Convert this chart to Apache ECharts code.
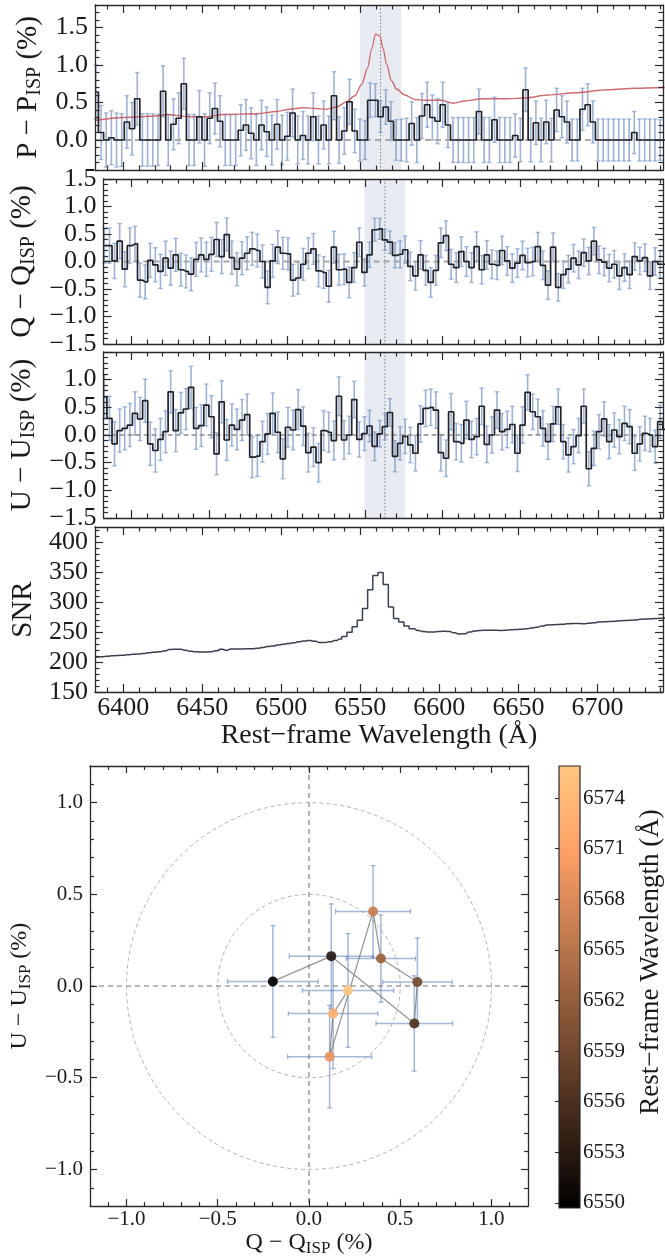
<!DOCTYPE html>
<html><head><meta charset="utf-8">
<script src="https://cdn.jsdelivr.net/npm/echarts@6/dist/echarts.min.js"></script>
<style>html,body{margin:0;padding:0;background:#fff}#c{width:665px;height:1258px}</style>
</head><body><div id="c"></div>
<script>
// ---------------- DATA ----------------
const wavelength = [
 6382.62,6385.90,6389.17,6392.45,6395.72,6399.00,6402.28,6405.55,6408.83,6412.10,
 6415.38,6418.66,6421.93,6425.21,6428.48,6431.76,6435.04,6438.31,6441.59,6444.86,
 6448.14,6451.42,6454.69,6457.97,6461.24,6464.52,6467.80,6471.07,6474.35,6477.62,
 6480.90,6484.18,6487.45,6490.73,6494.00,6497.28,6500.56,6503.83,6507.11,6510.38,
 6513.66,6516.94,6520.21,6523.49,6526.76,6530.04,6533.32,6536.59,6539.87,6543.14,
 6546.42,6549.70,6552.97,6556.25,6559.52,6562.80,6566.08,6569.35,6572.63,6575.90,
 6579.18,6582.46,6585.73,6589.01,6592.28,6595.56,6598.84,6602.11,6605.39,6608.66,
 6611.94,6615.22,6618.49,6621.77,6625.04,6628.32,6631.60,6634.87,6638.15,6641.42,
 6644.70,6647.98,6651.25,6654.53,6657.80,6661.08,6664.36,6667.63,6670.91,6674.18,
 6677.46,6680.74,6684.01,6687.29,6690.56,6693.84,6697.12,6700.39,6703.67,6706.94,
 6710.22,6713.50,6716.77,6720.05,6723.32,6726.60,6729.88,6733.15,6736.43,6739.70,
 6742.98];
const pPct = [
 0.64,0.10,0.00,0.03,0.00,0.00,0.24,0.15,0.55,0.00,
 0.00,0.00,0.00,0.65,0.00,0.21,0.29,0.75,0.00,0.00,
 0.31,0.00,0.29,0.42,0.25,0.00,0.00,0.00,0.13,0.20,
 0.09,0.00,0.20,0.11,0.00,0.21,0.00,0.05,0.36,0.00,
 0.06,0.00,0.31,0.00,0.20,0.00,0.59,0.00,0.12,0.51,
 0.12,0.00,0.00,0.53,0.53,0.31,0.44,0.25,0.00,0.00,
 0.00,0.22,0.00,0.32,0.47,0.30,0.25,0.47,0.20,0.00,
 0.00,0.00,0.00,0.00,0.38,0.00,0.00,0.27,0.00,0.00,
 0.00,0.06,0.00,0.67,0.00,0.23,0.00,0.24,0.00,0.40,
 0.31,0.24,0.00,0.00,0.41,0.47,0.24,0.00,0.00,0.00,
 0.00,0.00,0.00,0.00,0.10,0.00,0.00,0.00,0.00,0.00,
 0.00];
const qPct = [
 0.29,0.29,0.01,0.37,-0.14,0.29,0.32,-0.34,-0.37,0.02,
 -0.06,-0.18,0.06,-0.12,0.12,-0.15,-0.18,-0.23,0.04,0.12,
 0.04,0.13,0.40,0.09,0.49,0.07,-0.14,0.06,0.15,0.23,
 0.20,0.00,-0.47,0.01,0.26,0.15,0.14,-0.34,-0.30,-0.05,
 0.15,0.23,-0.17,-0.20,-0.45,0.26,-0.15,-0.14,-0.38,-0.11,
 0.35,-0.198,0.122,0.577,0.594,0.394,0.351,0.113,0.132,0.214,
 -0.09,-0.26,0.12,-0.16,-0.38,-0.16,0.34,0.47,-0.05,-0.11,
 0.18,0.00,-0.11,0.27,-0.15,0.12,-0.05,-0.07,0.20,0.01,
 -0.12,-0.03,0.11,-0.02,0.00,0.27,-0.07,-0.43,0.26,-0.47,
 -0.24,-0.14,0.06,-0.06,0.16,0.01,0.37,0.03,-0.01,-0.12,
 -0.05,-0.26,-0.11,-0.24,0.09,0.01,0.07,-0.26,0.00,-0.05,
 -0.05];
const uPct = [
 0.69,0.30,-0.16,0.08,0.12,0.18,0.39,0.29,0.62,-0.16,
 -0.28,-0.08,0.06,0.78,0.08,0.40,0.47,0.86,0.12,0.17,
 0.54,0.33,-0.34,0.60,-0.09,0.18,0.10,0.27,0.37,-0.40,
 -0.38,-0.12,0.02,0.39,0.05,-0.43,0.14,0.09,0.46,0.16,
 -0.32,-0.22,-0.50,0.08,0.05,-0.10,0.70,-0.09,0.00,0.64,
 -0.08,0.025,0.163,-0.204,0.022,0.150,0.407,-0.385,-0.150,-0.024,
 -0.18,-0.33,0.20,0.48,0.50,0.45,-0.32,-0.42,0.42,-0.12,
 -0.15,0.27,-0.08,-0.03,0.52,-0.17,0.00,0.45,0.06,0.10,
 0.19,-0.33,0.18,0.77,0.42,0.33,0.12,-0.12,0.20,0.51,
 -0.12,-0.36,-0.21,-0.01,0.52,-0.61,-0.24,0.06,0.29,-0.12,
 0.09,-0.03,0.21,0.15,-0.33,-0.16,0.03,0.00,-0.21,0.24,
 0.10];
const snr = [
 208.5,209,210,210.5,211,211.5,212.5,213,213.5,214.5,
 215.5,216.5,217.5,218.5,221,221.5,221.5,220,218,217.5,
 217,217,217.5,219,221.5,220,222,222,222,222.5,
 222.5,223,224.5,226,227,228.5,230,231,232.5,234,
 235.5,236,235,233,233,234,236,238.5,243,250,
 259,270,289.5,321,345,350,330,292,273,267,
 260.5,256,253,251,250.5,250.5,251,251.5,251,249,
 247,247.5,250.5,252,253,253.5,253.5,253.5,253,253.5,
 254,254.5,255,256,257,258.5,260.5,262,262.5,263,
 263.5,264,264.5,264.5,264,265,266,267,267.5,268,
 268.5,269,269.5,270,270.5,271.5,272,272.5,273,273.5,
 274];
const pErr = [
 .36,.36,.36,.36,.36,.35,.35,.35,.35,.35,
 .35,.35,.34,.34,.34,.34,.34,.34,.34,.34,
 .35,.35,.34,.34,.34,.34,.34,.34,.34,.34,
 .34,.34,.33,.33,.33,.33,.33,.32,.32,.32,
 .32,.32,.32,.32,.32,.32,.32,.31,.31,.30,
 .29,.28,.26,.23,.22,.21,.23,.26,.27,.28,
 .29,.29,.30,.30,.30,.30,.30,.30,.30,.30,
 .30,.30,.30,.30,.30,.30,.30,.30,.30,.30,
 .30,.29,.29,.29,.29,.29,.29,.29,.29,.29,
 .28,.28,.28,.28,.28,.28,.28,.28,.28,.28,
 .28,.28,.28,.28,.28,.28,.28,.28,.28,.27,
 .27];
const qErr = [
 .32,.32,.32,.32,.32,.32,.32,.31,.31,.31,
 .31,.31,.31,.31,.30,.30,.30,.30,.31,.31,
 .31,.31,.31,.31,.30,.30,.30,.30,.30,.30,
 .30,.30,.30,.30,.30,.29,.29,.29,.29,.29,
 .28,.28,.29,.29,.29,.29,.28,.28,.28,.27,
 .26,.248,.23,.21,.19,.19,.205,.23,.245,.25,
 .26,.26,.26,.27,.27,.27,.27,.27,.27,.27,
 .27,.27,.27,.27,.26,.26,.26,.26,.26,.26,
 .26,.26,.26,.26,.26,.26,.26,.26,.26,.25,
 .25,.25,.25,.25,.25,.25,.25,.25,.25,.25,
 .25,.25,.25,.25,.25,.25,.25,.25,.25,.24,
 .24];
const uErr = [
 .40,.40,.40,.39,.39,.39,.39,.39,.39,.39,
 .39,.38,.38,.38,.38,.37,.37,.38,.38,.38,
 .38,.38,.38,.38,.37,.38,.37,.37,.37,.37,
 .37,.37,.37,.37,.37,.36,.36,.36,.36,.35,
 .35,.35,.35,.36,.36,.35,.35,.35,.34,.33,
 .32,.305,.285,.26,.24,.238,.25,.28,.30,.31,
 .32,.32,.33,.33,.33,.33,.33,.33,.33,.33,
 .34,.34,.33,.33,.33,.33,.33,.33,.33,.33,
 .33,.33,.33,.32,.32,.32,.32,.32,.32,.32,
 .31,.31,.31,.31,.31,.31,.31,.31,.31,.31,
 .31,.31,.31,.31,.31,.31,.31,.30,.30,.30,
 .30];
// red reference curve in the top panel
const refWave = [6382.1,6400,6421.1,6427.4,6442.2,6452.7,6463.2,6484.4,6497,6505.4,6513.8,6522.3,6528.6,6535,6541.3,6546.5,6550.8,6554.6,6557.1,6559.6,6562.3,6564.4,6566.6,6569.7,6572.9,6578.1,6584.5,6590.8,6601.4,6608.7,6616.1,6626.7,6643.5,6654,6668.8,6685.6,6706.7,6723.6,6742.6];
const refPct  = [0.26,0.30,0.32,0.34,0.31,0.31,0.34,0.35,0.38,0.41,0.43,0.42,0.41,0.44,0.51,0.59,0.74,0.96,1.21,1.41,1.39,1.22,1.01,0.79,0.68,0.60,0.54,0.53,0.53,0.49,0.52,0.55,0.55,0.56,0.60,0.63,0.67,0.69,0.70];
const shadeRange = [6549.70, 6575.90];
const lineCentre = 6562.8;
const xRange = [6382.1, 6741.5];
const xMajorTicks = [6400,6450,6500,6550,6600,6650,6700];
const pMajorTicks = [0,0.5,1.0,1.5];
const qMajorTicks = [-1.5,-1.0,-0.5,0,0.5,1.0,1.5];
const uLabelTicks = [-1.5,-1.0,-0.5,0,0.5,1.0];
const snrMajorTicks = [150,200,250,300,350,400];
const quMajorTicks = [-1.0,-0.5,0,0.5,1.0];
const cbarTicks = [6550,6553,6556,6559,6562,6565,6568,6571,6574];

// ---------------- helpers ----------------
const FONT = "'Liberation Serif','DejaVu Serif',serif";
const INK = '#1a1a1a';
function fmt1(v){ const s = Math.abs(v).toFixed(1); return (v < -1e-9 ? '\u2212' : '') + s; }
function steps(a, b, st, skip){ const out=[]; for(let k=Math.round(a/st); k<=Math.round(b/st); k++){ const v=+(k*st).toFixed(6); if(!skip || Math.abs(v/skip - Math.round(v/skip))>1e-6) out.push(v);} return out; }
function rich(main, sub, tail, fs, sfs, lh){
  return { text: '{n|'+main+'}{s|'+sub+'}{n|'+tail+'}',
    style: {fontFamily:FONT, fontSize:fs, color:INK,
      rich:{ n:{fontFamily:FONT, fontSize:fs, color:INK, lineHeight:lh},
             s:{fontFamily:FONT, fontSize:sfs, color:INK, lineHeight:Math.round(sfs*0.8), verticalAlign:'bottom'} } } };
}

const xAxis = [], yAxis = [];
function axisSet(list, isX, grid, o){
  const first = list.length;
  const ls = {color:'#2a2a2a', width:1.3};
  const ts = {color:'#2a2a2a', width:1.2};
  const sides = isX ? ['bottom','top'] : ['left','right'];
  sides.forEach((pos, si) => {
    const base = {gridIndex:grid, type:'value', min:o.min, max:o.max, position:pos, z:10, silent:true,
      splitLine:{show:false}, minorTick:{show:false}};
    const lab = (si===0 && o.labels) ? {show:true, customValues:o.labels, formatter:o.fmt||fmt1,
        fontFamily:FONT, fontSize:o.fs, color:INK, margin:o.margin} : {show:false};
    const major = Object.assign({}, base, {
      axisLine:{show:true, onZero:false, lineStyle:ls},
      axisTick:{show:true, inside:true, length:o.majLen||8, customValues:o.major, lineStyle:ts},
      axisLabel:lab});
    if (si===0 && o.name){
      major.name = o.name.text; major.nameLocation='middle'; major.nameGap=o.nameGap;
      major.nameTextStyle = o.name.style;
    }
    list.push(major);
    list.push(Object.assign({}, base, {
      axisLine:{show:false, onZero:false},
      axisTick:{show:true, inside:true, length:o.minLen||4.5, customValues:o.minor, lineStyle:ts},
      axisLabel:{show:false}}));
  });
  return first;
}

const grid = [
  {left:95, right:2, top:5,   height:165},
  {left:95, right:2, top:179, height:165},
  {left:95, right:2, top:352, height:166},
  {left:95, right:2, top:527, height:165},
  {left:85, width:443, top:766, height:442},
  {left:559, width:23, top:766, height:442}
];

const xMinor = steps(6390, 6740, 10, 50);
const series = [];

// ---- top three polarisation panels ----
const panelDefs = [
  {vals:pPct, errs:pErr, min:-0.4, max:1.8, major:pMajorTicks, labels:pMajorTicks,
   minor:steps(-0.3,1.7,0.1,0.5), name:rich('P \u2212 P','ISP',' (%)',29,20,32),
   zero:{stroke:'#aaaaaa', lineWidth:2, lineDash:[6,4]}},
  {vals:qPct, errs:qErr, min:-1.5, max:1.5, major:qMajorTicks, labels:qMajorTicks,
   minor:steps(-1.4,1.4,0.1,0.5), name:rich('Q \u2212 Q','ISP',' (%)',29,20,32),
   zero:{stroke:'#a6a6a6', lineWidth:2, lineDash:[6,4]}},
  {vals:uPct, errs:uErr, min:-1.5, max:1.5, major:qMajorTicks, labels:uLabelTicks,
   minor:steps(-1.4,1.4,0.1,0.5), name:rich('U \u2212 U','ISP',' (%)',29,20,32),
   zero:{stroke:'#8c8c8c', lineWidth:1.4, lineDash:[5,3]}}
];

panelDefs.forEach((pd, g) => {
  const xi = axisSet(xAxis, true, g, {min:xRange[0], max:xRange[1], major:xMajorTicks, minor:xMinor, labels:null});
  const yi = axisSet(yAxis, false, g, {min:pd.min, max:pd.max, major:pd.major, minor:pd.minor,
    labels:pd.labels, fs:26, margin:7, name:pd.name, nameGap:45});
  // shaded line region
  series.push({type:'custom', xAxisIndex:xi, yAxisIndex:yi, z:1, silent:true, data:[[shadeRange[0], shadeRange[1]]],
    renderItem(params, api){
      const cs = params.coordSys;
      const a = api.coord([api.value(0), 0])[0], b = api.coord([api.value(1), 0])[0];
      return {type:'rect', shape:{x:a, y:cs.y, width:b-a, height:cs.height}, style:{fill:'#e8ecf2'}};
    }});
  // error bars
  series.push({type:'custom', xAxisIndex:xi, yAxisIndex:yi, z:2, silent:true,
    data: wavelength.map((w,j)=>[w, pd.vals[j], pd.errs[j]]),
    renderItem(params, api){
      const cs = params.coordSys;
      const x = api.value(0), y = api.value(1), e = api.value(2);
      const p1 = api.coord([x, y+e]), p2 = api.coord([x, y-e]);
      if (p1[0] < cs.x || p1[0] > cs.x + cs.width) return null;
      const top = Math.max(cs.y, p1[1]), bot = Math.min(cs.y+cs.height, p2[1]);
      const ch = [{type:'line', shape:{x1:p1[0], y1:top, x2:p1[0], y2:bot}, style:{stroke:'rgba(76,114,176,0.55)', lineWidth:1.6}}];
      [p1[1], p2[1]].forEach(yy => { if (yy >= cs.y && yy <= cs.y+cs.height)
        ch.push({type:'line', shape:{x1:p1[0]-2.3, y1:yy, x2:p1[0]+2.3, y2:yy}, style:{stroke:'rgba(110,145,200,0.6)', lineWidth:1.4}}); });
      return {type:'group', children:ch};
    }});
  // zero line + H-alpha line
  series.push({type:'custom', xAxisIndex:xi, yAxisIndex:yi, z:3, silent:true, data:[[lineCentre, 0]],
    renderItem(params, api){
      const cs = params.coordSys;
      const p = api.coord([api.value(0), api.value(1)]);
      return {type:'group', children:[
        {type:'line', shape:{x1:cs.x, y1:p[1], x2:cs.x+cs.width, y2:p[1]}, style:Object.assign({fill:null}, pd.zero)},
        {type:'line', shape:{x1:p[0], y1:cs.y, x2:p[0], y2:cs.y+cs.height}, style:{stroke:'rgba(110,110,110,0.85)', lineWidth:1, lineDash:[1.5,2]}}
      ]};
    }});
  if (g === 0){
    series.push({type:'line', xAxisIndex:xi, yAxisIndex:yi, z:4, silent:true, showSymbol:false, symbol:'none',
      smooth:0.3, smoothMonotone:'x', data: refWave.map((w,k)=>[w, refPct[k]]),
      lineStyle:{color:'rgba(200,80,88,0.85)', width:1.3}});
  }
  series.push({type:'line', xAxisIndex:xi, yAxisIndex:yi, z:5, silent:true, step:'middle', showSymbol:false, symbol:'none',
    data: wavelength.map((w,j)=>[w, pd.vals[j]]), lineStyle:{color:'#222228', width:1.7}});
});

// ---- SNR panel ----
{
  const xi = axisSet(xAxis, true, 3, {min:xRange[0], max:xRange[1], major:xMajorTicks, minor:xMinor,
    labels:xMajorTicks, fs:26, margin:3, fmt:v=>String(v),
    name:{text:'Rest\u2212frame Wavelength (\u00C5)', style:{fontFamily:FONT, fontSize:28, color:INK}}, nameGap:30});
  const yi = axisSet(yAxis, false, 3, {min:150, max:426, major:snrMajorTicks, minor:steps(160,420,10,50),
    labels:snrMajorTicks, fs:26, margin:7, fmt:v=>String(v),
    name:{text:'SNR', style:{fontFamily:FONT, fontSize:29, color:INK}}, nameGap:47});
  series.push({type:'line', xAxisIndex:xi, yAxisIndex:yi, z:5, silent:true, step:'middle', showSymbol:false, symbol:'none',
    data: wavelength.map((w,j)=>[w, snr[j]]), lineStyle:{color:'#3a4150', width:1.5}});
}

// ---- Q-U plane ----
const quIdx = wavelength.map((w,j)=>j).filter(j => wavelength[j] >= shadeRange[0]-0.01 && wavelength[j] <= shadeRange[1]+0.01);
const wMin = wavelength[quIdx[0]], wMax = wavelength[quIdx[quIdx.length-1]];
function copper(t){
  const r = Math.min(1, t/0.809524), g = 0.7812*t, b = 0.4975*t;
  return 'rgb(' + Math.round(r*255) + ',' + Math.round(g*255) + ',' + Math.round(b*255) + ')';
}
{
  const qx = axisSet(xAxis, true, 4, {min:-1.2, max:1.2, major:quMajorTicks, minor:steps(-1.1,1.1,0.1,0.5),
    labels:quMajorTicks, fs:21, margin:3, majLen:7, minLen:4,
    name:rich('Q \u2212 Q','ISP',' (%)',24,17,28), nameGap:20});
  const qy = axisSet(yAxis, false, 4, {min:-1.2, max:1.2, major:quMajorTicks, minor:steps(-1.1,1.1,0.1,0.5),
    labels:quMajorTicks, fs:21, margin:7, majLen:7, minLen:4,
    name:rich('U \u2212 U','ISP',' (%)',24,17,28), nameGap:49});
  // reference circles and axes
  series.push({type:'custom', xAxisIndex:qx, yAxisIndex:qy, z:1, silent:true, data:[[0,0]],
    renderItem(params, api){
      const cs = params.coordSys; const ch = [];
      [0.5, 1.0].forEach(r => {
        const pts = [];
        for (let k=0; k<=180; k++){ const a = k/180*2*Math.PI; pts.push(api.coord([r*Math.cos(a), r*Math.sin(a)])); }
        ch.push({type:'polyline', shape:{points:pts}, style:{stroke:'#b4b4b4', lineWidth:1, lineDash:[4,3], fill:null}});
      });
      const o = api.coord([0,0]);
      ch.push({type:'line', shape:{x1:cs.x, y1:o[1], x2:cs.x+cs.width, y2:o[1]}, style:{stroke:'#a0a0a0', lineWidth:1.6, lineDash:[5,4]}});
      ch.push({type:'line', shape:{x1:o[0], y1:cs.y, x2:o[0], y2:cs.y+cs.height}, style:{stroke:'#a0a0a0', lineWidth:1.6, lineDash:[5,4]}});
      return {type:'group', children:ch};
    }});
  // error bars
  series.push({type:'custom', xAxisIndex:qx, yAxisIndex:qy, z:2, silent:true,
    data: quIdx.map(j => [qPct[j], uPct[j], qErr[j], uErr[j]]),
    renderItem(params, api){
      const q = api.value(0), u = api.value(1), eq = api.value(2), eu = api.value(3);
      const L = api.coord([q-eq, u]), R = api.coord([q+eq, u]), T = api.coord([q, u+eu]), B = api.coord([q, u-eu]);
      const st = {stroke:'rgba(76,114,176,0.5)', lineWidth:1.5};
      const cs = {stroke:'rgba(76,114,176,0.5)', lineWidth:1.3};
      return {type:'group', children:[
        {type:'line', shape:{x1:L[0], y1:L[1], x2:R[0], y2:R[1]}, style:st},
        {type:'line', shape:{x1:T[0], y1:T[1], x2:B[0], y2:B[1]}, style:st},
        {type:'line', shape:{x1:L[0], y1:L[1]-2.5, x2:L[0], y2:L[1]+2.5}, style:cs},
        {type:'line', shape:{x1:R[0], y1:R[1]-2.5, x2:R[0], y2:R[1]+2.5}, style:cs},
        {type:'line', shape:{x1:T[0]-2.5, y1:T[1], x2:T[0]+2.5, y2:T[1]}, style:cs},
        {type:'line', shape:{x1:B[0]-2.5, y1:B[1], x2:B[0]+2.5, y2:B[1]}, style:cs}
      ]};
    }});
  series.push({type:'line', xAxisIndex:qx, yAxisIndex:qy, z:3, silent:true, showSymbol:false, symbol:'none',
    data: quIdx.map(j => [qPct[j], uPct[j]]), lineStyle:{color:'rgba(115,115,115,0.75)', width:1.3}});
  series.push({type:'scatter', xAxisIndex:qx, yAxisIndex:qy, z:4, silent:true, symbolSize:10,
    data: quIdx.map(j => ({value:[qPct[j], uPct[j]], itemStyle:{color:copper((wavelength[j]-wMin)/(wMax-wMin)), opacity:0.92}}))});
}

// ---- colour bar ----
{
  xAxis.push({gridIndex:5, type:'value', min:0, max:1, show:false});
  const cx = xAxis.length-1;
  yAxis.push({gridIndex:5, type:'value', min:wMin, max:wMax, position:'right', z:10, silent:true,
    splitLine:{show:false}, axisLine:{show:false},
    axisTick:{show:true, inside:true, length:4, customValues:cbarTicks, lineStyle:{color:'#2a2a2a', width:1.1}},
    axisLabel:{show:true, customValues:cbarTicks, formatter:v=>String(v), fontFamily:FONT, fontSize:21, color:INK, margin:3},
    name:'Rest\u2212frame Wavelength (\u00C5)', nameLocation:'middle', nameRotate:90, nameGap:57,
    nameTextStyle:{fontFamily:FONT, fontSize:27, color:INK, padding:[0,0,0,50]}});
  const cy = yAxis.length-1;
  series.push({type:'custom', xAxisIndex:cx, yAxisIndex:cy, z:2, silent:true, data:[[0,0]],
    renderItem(params, api){
      const cs = params.coordSys;
      return {type:'rect', shape:{x:cs.x, y:cs.y, width:cs.width, height:cs.height},
        style:{stroke:'#2a2a2a', lineWidth:1.2,
          fill:{type:'linear', x:0, y:1, x2:0, y2:0, colorStops:[
            {offset:0, color:'rgb(0,0,0)'}, {offset:0.809524, color:'rgb(255,161,103)'}, {offset:1, color:'rgb(255,199,127)'}]}}};
    }});
}

const chart = echarts.init(document.getElementById('c'), null, {renderer:'canvas'});
chart.setOption({animation:false, backgroundColor:'#ffffff', textStyle:{fontFamily:FONT},
  grid, xAxis, yAxis, series});
</script></body></html>
